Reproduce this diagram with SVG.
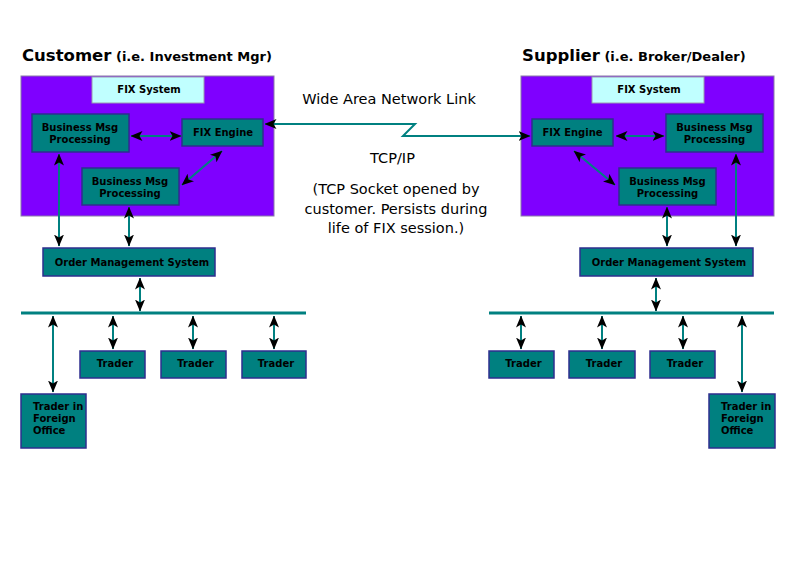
<svg xmlns="http://www.w3.org/2000/svg" width="800" height="566" viewBox="0 0 800 566">
<style>
.panel{fill:#7F00FF;stroke:#8a7aa8;stroke-width:1}
.fixsys{fill:#C0FFFF;stroke:#9a9ab0;stroke-width:1}
.box{fill:#008080;stroke:#2E2E8F;stroke-width:1.5}
.bt{font-family:"DejaVu Sans",Verdana,sans-serif;font-size:10px;font-weight:bold;fill:#000}
.c{text-anchor:middle}
.title{font-family:"DejaVu Sans",Verdana,sans-serif;font-weight:bold;fill:#000}
.note{font-family:"DejaVu Sans",Verdana,sans-serif;font-size:14.5px;fill:#000;text-anchor:middle}
.ar{fill:none;stroke:#008080;stroke-width:2;marker-start:url(#ah);marker-end:url(#ah)}
.bus{stroke:#008080;stroke-width:3}
</style>
<defs>
<marker id="ah" viewBox="0 0 12 10" refX="11.5" refY="5" markerWidth="12" markerHeight="10" markerUnits="userSpaceOnUse" orient="auto-start-reverse">
<path d="M0,0 L12,5 L0,10 L3,5 z" fill="#000"/>
</marker>
</defs>
<rect width="800" height="566" fill="#fff"/>

<g id="customer-title">
<text class="title" x="22" y="61"><tspan font-size="16.5">Customer</tspan><tspan font-size="13"> (i.e. Investment Mgr)</tspan></text>
</g>
<g id="supplier-title">
<text class="title" x="522" y="61"><tspan font-size="16.5">Supplier</tspan><tspan font-size="13"> (i.e. Broker/Dealer)</tspan></text>
</g>

<g id="customer-panel"><rect class="panel" x="21" y="76" width="253" height="140"/></g>
<g id="customer-fixsystem"><rect class="fixsys" x="92" y="77" width="112" height="26"/><text class="bt c" x="149" y="93">FIX System</text></g>
<g id="customer-bmp1"><rect class="box" x="32" y="114" width="97" height="38"/><text class="bt c" x="80" y="131">Business Msg</text><text class="bt c" x="80" y="143">Processing</text></g>
<g id="customer-fixengine"><rect class="box" x="182" y="119" width="81" height="27"/><text class="bt c" x="223" y="136">FIX Engine</text></g>
<g id="customer-bmp2"><rect class="box" x="82" y="168" width="97" height="37"/><text class="bt c" x="130" y="185">Business Msg</text><text class="bt c" x="130" y="197">Processing</text></g>
<g id="customer-oms"><rect class="box" x="43" y="248" width="172" height="28"/><text class="bt c" x="132" y="265.5">Order Management System</text></g>
<g id="customer-trader1"><rect class="box" x="80" y="351" width="65" height="27"/><text class="bt c" x="115" y="367">Trader</text></g>
<g id="customer-trader2"><rect class="box" x="161" y="351" width="65" height="27"/><text class="bt c" x="195.5" y="367">Trader</text></g>
<g id="customer-trader3"><rect class="box" x="242" y="351" width="64" height="27"/><text class="bt c" x="276" y="367">Trader</text></g>
<g id="customer-foreign"><rect class="box" x="21" y="394" width="65" height="54"/><text class="bt" x="33" y="410">Trader in</text><text class="bt" x="33" y="422">Foreign</text><text class="bt" x="33" y="434">Office</text></g>

<g id="supplier-panel"><rect class="panel" x="521" y="76" width="253" height="140"/></g>
<g id="supplier-fixsystem"><rect class="fixsys" x="592" y="77" width="112" height="26"/><text class="bt c" x="649" y="93">FIX System</text></g>
<g id="supplier-fixengine"><rect class="box" x="532" y="119" width="81" height="27"/><text class="bt c" x="572.5" y="136">FIX Engine</text></g>
<g id="supplier-bmp1"><rect class="box" x="666" y="114" width="97" height="38"/><text class="bt c" x="714.5" y="131">Business Msg</text><text class="bt c" x="714.5" y="143">Processing</text></g>
<g id="supplier-bmp2"><rect class="box" x="619" y="168" width="97" height="37"/><text class="bt c" x="667.5" y="185">Business Msg</text><text class="bt c" x="667.5" y="197">Processing</text></g>
<g id="supplier-oms"><rect class="box" x="580" y="248" width="173" height="28"/><text class="bt c" x="669" y="265.5">Order Management System</text></g>
<g id="supplier-trader1"><rect class="box" x="489" y="351" width="65" height="27"/><text class="bt c" x="523.5" y="367">Trader</text></g>
<g id="supplier-trader2"><rect class="box" x="569" y="351" width="66" height="27"/><text class="bt c" x="604" y="367">Trader</text></g>
<g id="supplier-trader3"><rect class="box" x="650" y="351" width="65" height="27"/><text class="bt c" x="685" y="367">Trader</text></g>
<g id="supplier-foreign"><rect class="box" x="709" y="394" width="66" height="54"/><text class="bt" x="721" y="410">Trader in</text><text class="bt" x="721" y="422">Foreign</text><text class="bt" x="721" y="434">Office</text></g>

<g id="wan-labels">
<text class="note" x="389" y="104">Wide Area Network Link</text>
<text class="note" x="392.5" y="163">TCP/IP</text>
<text class="note" x="396" y="194">(TCP Socket opened by</text>
<text class="note" x="396" y="213.5">customer. Persists during</text>
<text class="note" x="396" y="233">life of FIX session.)</text>
</g>

<g id="connectors">
<line class="bus" x1="21" y1="313" x2="306" y2="313"/>
<line class="bus" x1="489" y1="313" x2="774" y2="313"/>
<polyline class="ar" points="265,124 415,124 403,136 530,136"/>
<line class="ar" x1="131" y1="136" x2="181" y2="136"/>
<line class="ar" x1="222" y1="151" x2="182" y2="185"/>
<line class="ar" x1="59" y1="154" x2="59" y2="246"/>
<line class="ar" x1="129" y1="207" x2="129" y2="246"/>
<line class="ar" x1="140" y1="278" x2="140" y2="311"/>
<line class="ar" x1="53" y1="316" x2="53" y2="392"/>
<line class="ar" x1="113" y1="316" x2="113" y2="349"/>
<line class="ar" x1="193" y1="316" x2="193" y2="349"/>
<line class="ar" x1="274" y1="316" x2="274" y2="349"/>
<line class="ar" x1="616" y1="136" x2="664" y2="136"/>
<line class="ar" x1="574" y1="151" x2="615" y2="185"/>
<line class="ar" x1="736" y1="154" x2="736" y2="246"/>
<line class="ar" x1="667" y1="207" x2="667" y2="246"/>
<line class="ar" x1="656" y1="278" x2="656" y2="311"/>
<line class="ar" x1="521" y1="316" x2="521" y2="349"/>
<line class="ar" x1="602" y1="316" x2="602" y2="349"/>
<line class="ar" x1="683" y1="316" x2="683" y2="349"/>
<line class="ar" x1="742" y1="316" x2="742" y2="392"/>
</g>
</svg>
